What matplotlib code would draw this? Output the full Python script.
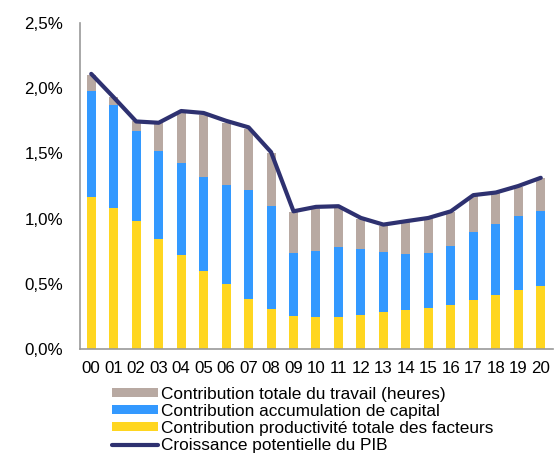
import matplotlib.pyplot as plt
from matplotlib.ticker import FuncFormatter

years = ["00", "01", "02", "03", "04", "05", "06", "07", "08", "09", "10",
         "11", "12", "13", "14", "15", "16", "17", "18", "19", "20"]
# contributions en points de %
tfp = [1.167, 1.08, 0.985, 0.844, 0.723, 0.60, 0.50, 0.385, 0.308, 0.254, 0.244,
       0.249, 0.26, 0.287, 0.30, 0.313, 0.338, 0.377, 0.413, 0.45, 0.48]
capital = [0.813, 0.79, 0.685, 0.674, 0.702, 0.718, 0.756, 0.838, 0.787, 0.486, 0.51,
           0.531, 0.51, 0.459, 0.43, 0.423, 0.449, 0.518, 0.543, 0.568, 0.58]
labour = [0.12, 0.06, 0.075, 0.215, 0.39, 0.48, 0.48, 0.465, 0.405, 0.31, 0.32,
          0.305, 0.225, 0.20, 0.245, 0.26, 0.26, 0.275, 0.24, 0.228, 0.25]
gdp = [2.11, 1.93, 1.745, 1.735, 1.825, 1.81, 1.75, 1.70, 1.51, 1.056, 1.09,
       1.095, 1.005, 0.954, 0.98, 1.005, 1.056, 1.18, 1.20, 1.25, 1.313]

plt.rcParams["font.family"] = ["Liberation Sans", "DejaVu Sans"]
fs = 12.2

fig = plt.figure(figsize=(5.54, 4.54), dpi=100)
ax = fig.add_axes([0.1444, 0.2313, 0.854, 0.718])

x = list(range(len(years)))
cap_bottom = tfp
lab_bottom = [a + b for a, b in zip(tfp, capital)]

b_lab = ax.bar(x, labour, 0.4, bottom=lab_bottom, color="#B8A9A2", zorder=2)
b_cap = ax.bar(x, capital, 0.4, bottom=cap_bottom, color="#3399FF", zorder=2)
b_tfp = ax.bar(x, tfp, 0.4, color="#FFD620", zorder=2)
ln, = ax.plot(x, gdp, color="#2E3170", lw=3, zorder=3, solid_capstyle="round")

ax.set_xlim(-0.5, 20.55)
ax.set_ylim(0, 2.5)
ax.set_yticks([0, 0.5, 1.0, 1.5, 2.0, 2.5])
ax.yaxis.set_major_formatter(FuncFormatter(lambda v, p: f"{v:.1f}%".replace(".", ",")))
ax.set_xticks(x)
ax.set_xticklabels(years)
ax.tick_params(axis="y", length=0, pad=12, labelsize=fs)
ax.tick_params(axis="x", length=0, pad=9, labelsize=fs)

for s in ["top", "right"]:
    ax.spines[s].set_visible(False)
for s in ["left", "bottom"]:
    ax.spines[s].set_color("#999999")
    ax.spines[s].set_linewidth(1.2)

fig.legend([b_lab, b_cap, b_tfp, ln],
           ["Contribution totale du travail (heures)",
            "Contribution accumulation de capital",
            "Contribution productivité totale des facteurs",
            "Croissance potentielle du PIB"],
           loc="upper left", bbox_to_anchor=(0.202, 0.148), frameon=False,
           fontsize=12.4, handlelength=2.65, handleheight=0.45,
           handletextpad=0.18, labelspacing=0.12, borderaxespad=0, borderpad=0)

fig.savefig("out.png", dpi=100)
